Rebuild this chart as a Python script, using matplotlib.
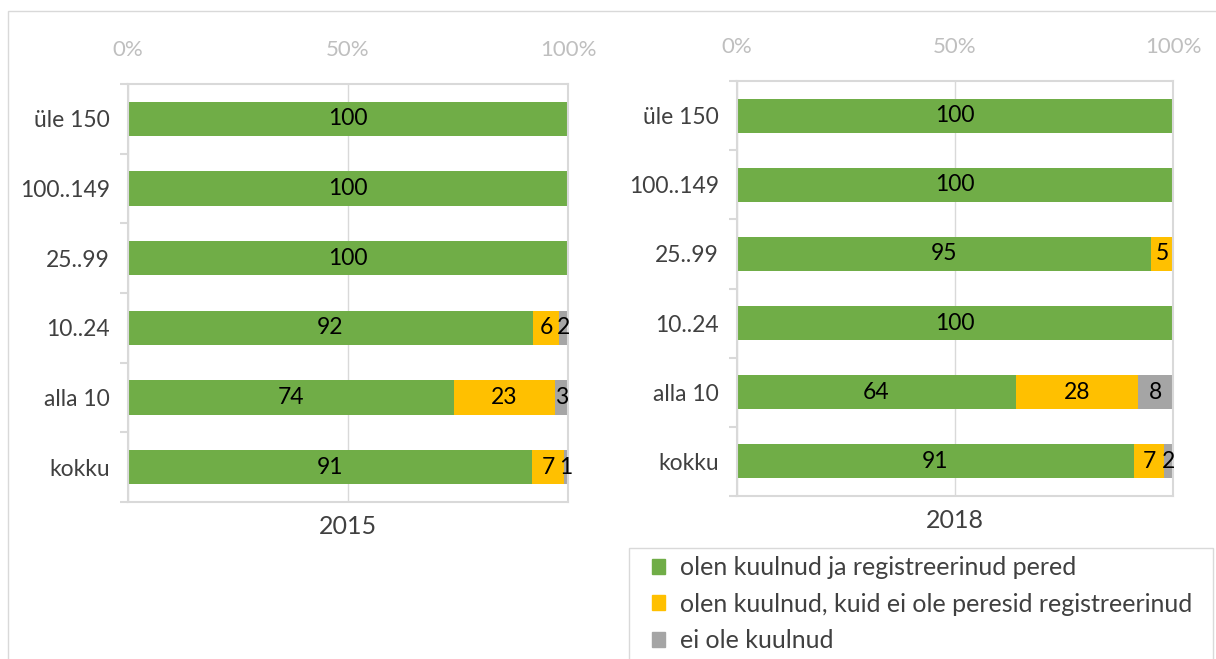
import numpy as np
import matplotlib.pyplot as plt
from matplotlib.patches import Rectangle

plt.rcParams['font.family'] = ['Lato', 'DejaVu Sans']

kategooriad = ['üle 150', '100..149', '25..99', '10..24', 'alla 10', 'kokku']
seeriad = ['olen kuulnud ja registreerinud pered',
           'olen kuulnud, kuid ei ole peresid registreerinud',
           'ei ole kuulnud']
varvid = ['#70AD47', '#FFC000', '#A5A5A5']

roheline_2015 = [100, 100, 100, 92, 74, 91]
kollane_2015 = [0, 0, 0, 6, 23, 7]
hall_2015 = [0, 0, 0, 2, 3, 1]

roheline_2018 = [100, 100, 95, 100, 64, 91]
kollane_2018 = [0, 0, 5, 0, 28, 7]
hall_2018 = [0, 0, 0, 0, 8, 2]

aastad = ['2015', '2018']
grid_c = '#D9D9D9'

fig = plt.figure(figsize=(12.16, 6.59), dpi=100)
# välimine raam
fig.patches.append(Rectangle((8/1216, -0.01), 1.0, 1 - 11/659 + 0.01,
                             transform=fig.transFigure, fill=False,
                             edgecolor=grid_c, lw=1))

ax1 = fig.add_axes([128/1216, 1 - 502/659, 440/1216, (502 - 84)/659])
ax2 = fig.add_axes([737/1216, 1 - 496/659, 436/1216, (496 - 81)/659])


def joonista(ax, andmed, aasta):
    arr = np.array(andmed, dtype=float)
    kokku = arr.sum(axis=0)
    osa = arr / kokku
    y = np.arange(len(kategooriad))
    vasak = np.zeros(len(kategooriad))
    for i in range(3):
        ax.barh(y, osa[i], left=vasak, height=0.49, color=varvid[i], zorder=2)
        for j in range(len(y)):
            if arr[i][j] > 0:
                ax.text(vasak[j] + osa[i][j] / 2, y[j], f'{int(arr[i][j])}',
                        ha='center', va='center', fontsize=16.5, color='black', zorder=3)
        vasak += osa[i]
    ax.set_xlim(0, 1)
    ax.set_ylim(len(y) - 0.5, -0.5)
    ax.xaxis.tick_top()
    ax.set_xticks([0, 0.5, 1])
    ax.set_xticklabels(['0%', '50%', '100%'])
    ax.tick_params(axis='x', length=0, colors='#BFBFBF', labelsize=16, pad=17)
    ax.set_yticks(y)
    ax.set_yticklabels(kategooriad)
    ax.set_yticks(np.arange(-0.5, len(y)), minor=True)
    ax.tick_params(axis='y', which='major', length=0, labelcolor='#404040', labelsize=16.5, pad=13)
    ax.tick_params(axis='y', which='minor', length=6, color=grid_c, width=1.5)
    ax.grid(axis='x', color=grid_c, lw=1, zorder=0)
    for s in ax.spines.values():
        s.set_color(grid_c)
        s.set_linewidth(1.5)
    ax.set_xlabel(aasta, fontsize=18, color='#404040', labelpad=9)


joonista(ax1, [roheline_2015, kollane_2015, hall_2015], aastad[0])
joonista(ax2, [roheline_2018, kollane_2018, hall_2018], aastad[1])

# legendi kast
fig.patches.append(Rectangle((629/1216, -0.01), (1213 - 629)/1216, 1 - 548/659 + 0.01,
                             transform=fig.transFigure, fill=False,
                             edgecolor=grid_c, lw=1))
kastid = [Rectangle((0, 0), 1, 1, color=c) for c in varvid]
leg = fig.legend(kastid, seeriad, loc='upper left',
                 bbox_to_anchor=(652/1216, 1 - 556/659),
                 fontsize=18, frameon=False,
                 handlelength=0.5, handleheight=0.55,
                 handletextpad=0.6, labelspacing=0.55, borderpad=0,
                 borderaxespad=0)
for t in leg.get_texts():
    t.set_color('#404040')

fig.savefig('out.png', dpi=100)
